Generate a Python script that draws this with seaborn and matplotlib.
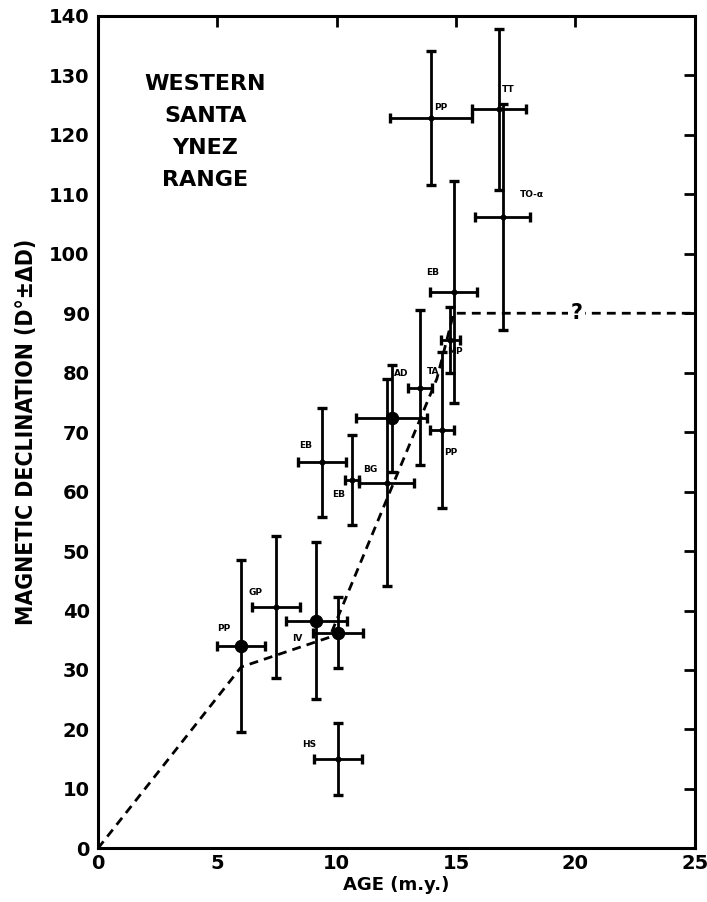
import matplotlib
matplotlib.use("Agg")
import matplotlib.pyplot as plt
import seaborn as sns
import pandas as pd

# ---- data ----
site_labels = ["PP", "GP", "IV", "", "HS", "EB", "EB", "BG", "AD", "TA", "PP", "MP", "EB", "PP", "TT", "TO-α"]
age = [6.0, 7.45, 9.15, 10.05, 10.05, 9.38, 10.65, 12.1, 12.3, 13.5, 14.4, 14.75, 14.9, 13.95, 16.8, 16.95]
age_err = [1.0, 1.0, 1.27, 1.05, 1.0, 1.0, 0.3, 1.15, 1.5, 0.5, 0.5, 0.4, 1.0, 1.7, 1.15, 1.15]
declination = [34.0, 40.6, 38.3, 36.3, 15.0, 64.9, 62.0, 61.5, 72.3, 77.5, 70.4, 85.5, 93.6, 122.8, 124.3, 106.2]
declination_err = [14.5, 11.9, 13.2, 6.0, 6.1, 9.2, 7.6, 17.4, 9.0, 13.0, 13.1, 5.5, 18.7, 11.3, 13.5, 19.0]
dot_kind = ["big", "small", "big", "big", "small", "small", "small", "small", "big", "small",
            "small", "small", "small", "small", "small", "small"]

# label offsets (in data units) relative to each point
label_dx = [-0.75, -0.85, -0.8, 0.0, -1.2, -0.7, -0.55, -0.7, 0.4, 0.55, 0.4, 0.2, -0.9, 0.4, 0.4, 1.25]
label_dy = [3.0, 2.4, -3.0, 0.0, 2.5, 2.8, -2.5, 2.3, 7.5, 2.7, -3.9, -2.0, 3.2, 1.8, 3.3, 3.8]

trend_age = [0, 6.0, 9.7, 14.2, 14.9, 25.0]
trend_decl = [0, 30.5, 35.5, 79.0, 90.0, 90.0]

x_ticks = [0, 5, 10, 15, 20, 25]
y_ticks = list(range(0, 141, 10))

df = pd.DataFrame({"site": site_labels, "age": age, "age_err": age_err,
                   "decl": declination, "decl_err": declination_err, "kind": dot_kind})
trend = pd.DataFrame({"age": trend_age, "decl": trend_decl})

sns.set_style("white")
plt.rcParams["font.family"] = ["DejaVu Sans"]
for k in ["text.color", "axes.labelcolor", "xtick.color", "ytick.color", "axes.edgecolor"]:
    plt.rcParams[k] = "black"

fig = plt.figure(figsize=(7.07, 9.02), dpi=100)
ax = fig.add_axes([0.1386, 0.0595, 0.9826 - 0.1386, 0.9823 - 0.0595])

# dashed trend line
sns.lineplot(data=trend, x="age", y="decl", ax=ax, color="black", linewidth=2.0,
             linestyle=(0, (3.2, 2.2)), sort=False, zorder=2)
ax.text(20.05, 90.0, "?", ha="center", va="center", fontsize=15, fontweight="bold",
        bbox=dict(facecolor="white", edgecolor="none", pad=1.5), zorder=3)

# error bars
ax.errorbar(df["age"], df["decl"], xerr=df["age_err"], yerr=df["decl_err"], fmt="none",
            ecolor="black", elinewidth=2.0, capsize=3.5, capthick=2.4, zorder=4)

# dots
sns.scatterplot(data=df[df["kind"] == "big"], x="age", y="decl", ax=ax, color="black",
                s=80, edgecolor="black", zorder=5, legend=False)
sns.scatterplot(data=df[df["kind"] == "small"], x="age", y="decl", ax=ax, color="black",
                s=16, edgecolor="black", zorder=5, legend=False)

# site labels
for lab, x, y, dx, dy in zip(site_labels, age, declination, label_dx, label_dy):
    if lab:
        ax.text(x + dx, y + dy, lab, ha="center", va="center", fontsize=6.5,
                fontweight="bold", zorder=6)

# title block
ax.text(4.5, 130.3, "WESTERN\nSANTA\nYNEZ\nRANGE", ha="center", va="top", fontsize=16,
        fontweight="bold", linespacing=1.75)

ax.set_xlim(0, 25)
ax.set_ylim(0, 140)
ax.set_xticks(x_ticks)
ax.set_yticks(y_ticks)
ax.set_xticklabels([str(t) for t in x_ticks], fontsize=14, fontweight="bold")
ax.set_yticklabels([str(t) for t in y_ticks], fontsize=14, fontweight="bold")
ax.tick_params(direction="in", length=8, width=2.0, top=True, right=True, pad=4, color="black")
ax.tick_params(axis="y", pad=6)
for s in ax.spines.values():
    s.set_visible(True)
    s.set_linewidth(2.2)
    s.set_color("black")
ax.set_xlabel("AGE (m.y.)", fontsize=13, fontweight="bold", labelpad=2)
ax.set_ylabel("MAGNETIC DECLINATION (D°±ΔD)", fontsize=16.5, fontweight="bold", labelpad=8,
              fontstretch="condensed")
ax.grid(False)

fig.savefig("out.png", dpi=100)
